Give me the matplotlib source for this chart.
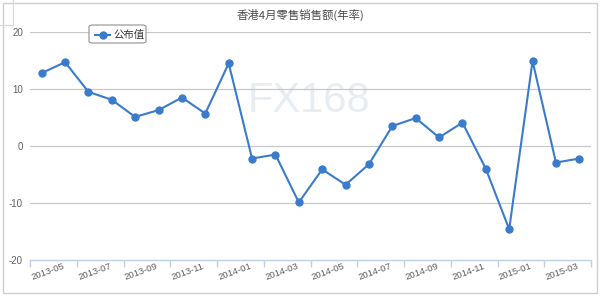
"""
Hong Kong retail sales (YoY) line chart, Highcharts-like look
"""

import matplotlib
matplotlib.use('Agg')
import matplotlib.pyplot as plt
from matplotlib.patches import Rectangle, FancyBboxPatch
from matplotlib.lines import Line2D

plt.rcParams['font.family'] = ['Liberation Sans', 'Noto Sans CJK SC', 'DejaVu Sans']

months = ['2013-05', '2013-06', '2013-07', '2013-08', '2013-09', '2013-10',
          '2013-11', '2013-12', '2014-01', '2014-02', '2014-03', '2014-04',
          '2014-05', '2014-06', '2014-07', '2014-08', '2014-09', '2014-10',
          '2014-11', '2014-12', '2015-01', '2015-02', '2015-03', '2015-04']
values = [12.8, 14.7, 9.5, 8.1, 5.1, 6.3, 8.5, 5.7, 14.5, -2.2, -1.5, -9.9,
          -4.1, -6.8, -3.2, 3.5, 4.9, 1.5, 4.1, -4.0, -14.6, 14.9, -2.9, -2.2]
yticks = [-20, -10, 0, 10, 20]
title = '香港4月零售销售额(年率)'
series_name = '公布值'

line_color = '#3a7bcb'
grid_color = '#c8c8c8'
axis_color = '#c0d0e0'
text_color = '#606060'

fig = plt.figure(figsize=(6, 2.96), dpi=100)
fig.patch.set_facecolor('white')

# outer frame and the little tab in the corner
fig.patches.append(Rectangle((3 / 600, 1 - 293 / 296), 594 / 600, 290 / 296,
                             transform=fig.transFigure, fill=False,
                             edgecolor='#cfcfcf', linewidth=1))
fig.patches.append(Rectangle((-2 / 600, 1 - 25 / 296), 15 / 600, 27 / 296,
                             transform=fig.transFigure, fill=False,
                             edgecolor='#d5d5d5', linewidth=0.8))

ax = fig.add_axes([30 / 600, 1 - 260 / 296, 561 / 600, 228 / 296])
ax.set_facecolor('none')

x = [i + 0.5 for i in range(len(months))]
ax.plot(x, values, color=line_color, linewidth=1.5, marker='o',
        markersize=5, zorder=3)

ax.set_xlim(0, len(months))
ax.set_ylim(-20, 20)

ax.set_yticks(yticks)
ax.set_yticklabels([str(v) for v in yticks], color=text_color, fontsize=7)
for v in yticks[1:]:
    ax.axhline(v, color=grid_color, linewidth=0.9, zorder=1)
ax.tick_params(axis='y', length=0, pad=5)

tick_pos = list(range(0, len(months) + 1, 2))
ax.set_xticks(tick_pos)
ax.set_xticklabels([months[i] if i < len(months) else '' for i in tick_pos],
                   color=text_color, fontsize=6.8, rotation=20,
                   ha='left', va='top', rotation_mode='anchor')
ax.tick_params(axis='x', length=5, color=axis_color, width=1, pad=-1)
for lbl in ax.get_xticklabels():
    lbl.set_y(-0.035)

for side in ['left', 'right', 'top']:
    ax.spines[side].set_visible(False)
ax.spines['bottom'].set_color(axis_color)
ax.spines['bottom'].set_linewidth(1)

# watermark
ax.text(0.497, 0.697, 'FX168', transform=ax.transAxes, fontsize=30,
        color='#e8edf2', ha='center', va='center', zorder=0,
        family=['Liberation Sans'])

fig.text(0.5, 1 - 15 / 296, title, ha='center', va='center', fontsize=8.2,
         color='#4a4a4a', family=['Noto Sans CJK SC', 'DejaVu Sans'])

# legend box drawn by hand to match the boxed style
fig.patches.append(FancyBboxPatch((89 / 600, 1 - 43 / 296), 57 / 600, 18 / 296,
                                  boxstyle='round,pad=0,rounding_size=0.006',
                                  transform=fig.transFigure, facecolor='white',
                                  edgecolor='#909090', linewidth=0.8))
fig.lines.append(Line2D([95 / 600, 110 / 600], [1 - 35 / 296, 1 - 35 / 296],
                        transform=fig.transFigure, color=line_color,
                        linewidth=1.5, marker=None))
fig.lines.append(Line2D([102.5 / 600], [1 - 35 / 296], transform=fig.transFigure,
                        color=line_color, marker='o', markersize=5))
fig.text(113 / 600, 1 - 34.5 / 296, series_name, ha='left', va='center',
         fontsize=7.5, color='#333333', family=['Noto Sans CJK SC', 'DejaVu Sans'])

fig.savefig('out.png', dpi=100)
